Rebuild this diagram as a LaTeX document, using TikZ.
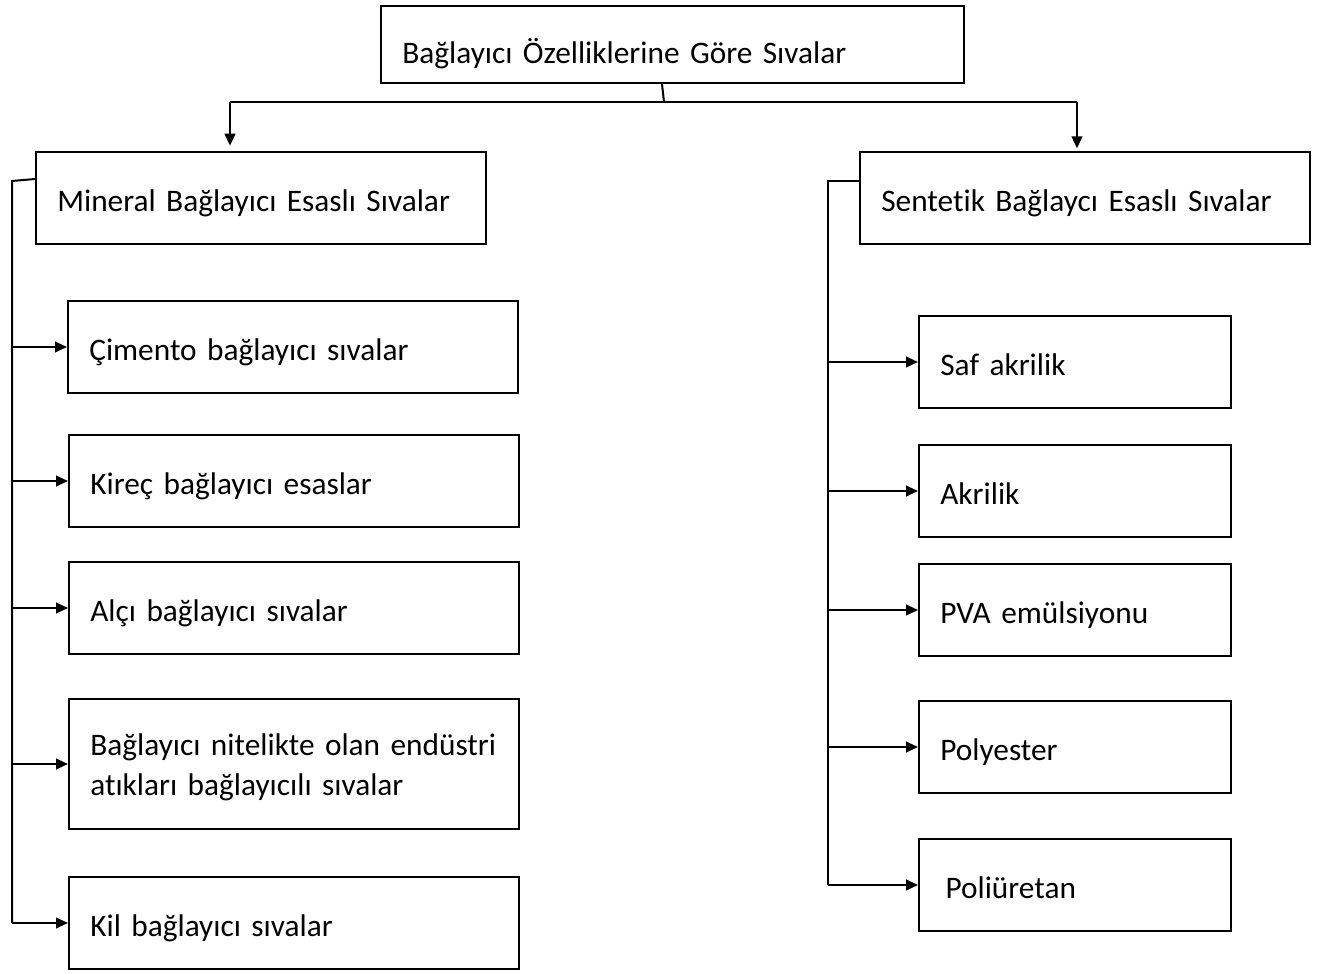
\documentclass[tikz,border=0pt]{standalone}
\usepackage{fontspec}
\setmainfont{Carlito}[Ligatures=NoCommon]
\usetikzlibrary{arrows.meta, calc}

\begin{document}
\begin{tikzpicture}[x=0.75pt, y=-0.75pt,
    every node/.style={font=\fontsize{23.5}{30}\selectfont},
    box/.style={draw, line width=1.5pt, anchor=north west, align=left, inner xsep=16pt, inner ysep=0pt},
    oneline/.style={text height=24pt, text depth=4.5pt},
    wide/.style={box, minimum width=337.5pt, minimum height=69pt, text width=305.5pt},
    narrow/.style={box, oneline, minimum width=234pt, minimum height=69pt, text width=202pt},
    line/.style={line width=1.5pt},
    arr/.style={line, -{Triangle[length=9pt, width=8pt]}},
]

\useasboundingbox (0,0) rectangle (1322,974);

% Title box
\node[box, minimum width=437.25pt, minimum height=57.75pt, text width=405.25pt,
      text height=32pt, text depth=4pt] (top) at (380,5) {Bağlayıcı Özelliklerine Göre Sıvalar};

% === Main groups ===
\node[wide, oneline] (mineral) at (35,151) {Mineral Bağlayıcı Esaslı Sıvalar};
\node[wide, oneline] (sentetik) at (859,151) {Sentetik Bağlaycı Esaslı Sıvalar};

% === Mineral children ===
\node[wide, oneline] (cimento) at (67,300) {Çimento bağlayıcı sıvalar};
\node[wide, oneline] (kirec) at (68,434) {Kireç bağlayıcı esaslar};
\node[wide, oneline] (alci) at (68,561) {Alçı bağlayıcı sıvalar};
\node[wide, minimum height=97.5pt, text height=22pt, text depth=35pt] (atik) at (68,698)
    {Bağlayıcı nitelikte olan endüstri\\atıkları bağlayıcılı sıvalar};
\node[wide, oneline] (kil) at (68,876) {Kil bağlayıcı sıvalar};

% === Sentetik children ===
\node[narrow] (saf) at (918,315) {Saf akrilik};
\node[narrow] (akrilik) at (918,444) {Akrilik};
\node[narrow] (pva) at (918,563) {PVA emülsiyonu};
\node[narrow] (polyester) at (918,700) {Polyester};
\node[narrow] (poliuretan) at (918,838) {\,Poliüretan};

% Junction coordinates
\coordinate (jn) at (664,102);
\coordinate (jl) at (230,102);
\coordinate (jr) at (1077,102);
\coordinate (lt) at (12,181);
\coordinate (rt) at (828,181);

% Top split
\draw[line] ($(top.south west)+(282,0)$) -- (jn);
\draw[line] (jl) -- (jr);
\draw[arr, shorten >=4pt] (jl) -- (jl |- mineral.north);
\draw[arr, shorten >=2pt] (jr) -- (jr |- sentetik.north);

% Left spine
\draw[line] ($(mineral.north west)+(0,28)$) -- (lt) -- (lt |- kil.west);
\foreach \c in {cimento, kirec, alci, atik, kil}
    \draw[arr] (lt |- \c.west) -- (\c.west);

% Right spine
\draw[line] ($(sentetik.north west)+(0,30)$) -- (rt) -- (rt |- poliuretan.west);
\foreach \c in {saf, akrilik, pva, polyester, poliuretan}
    \draw[arr] (rt |- \c.west) -- (\c.west);

\end{tikzpicture}
\end{document}
